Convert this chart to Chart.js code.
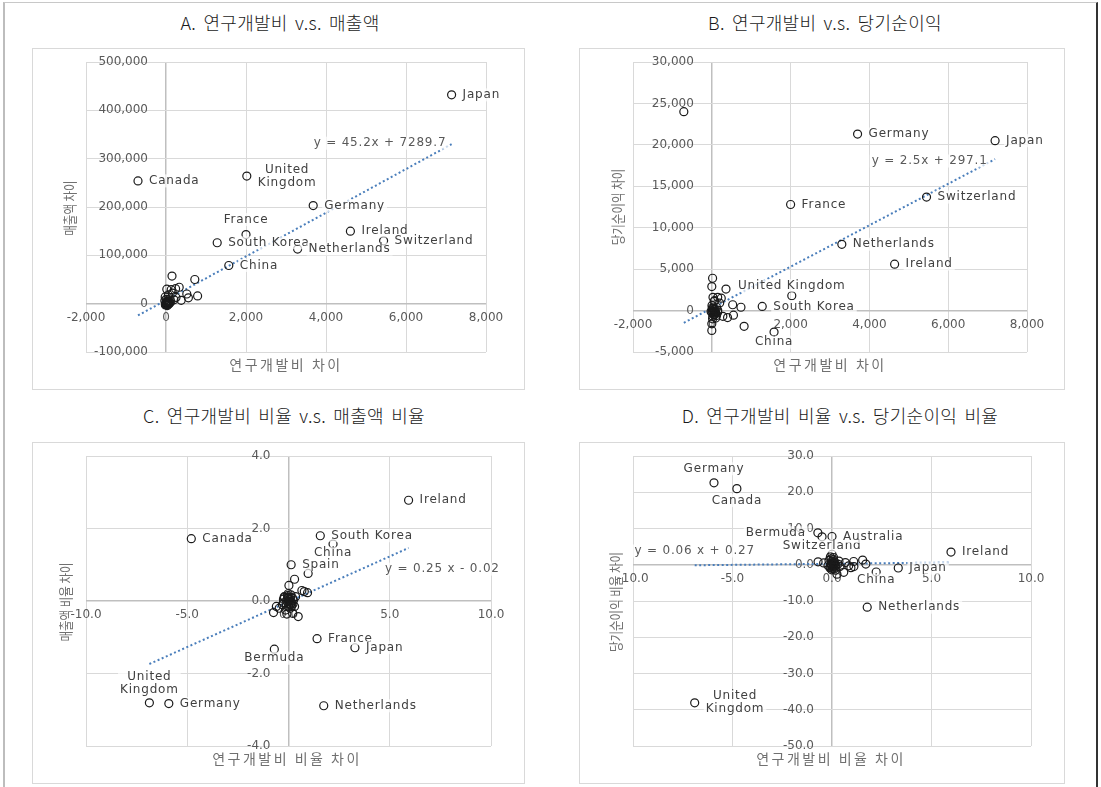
<!DOCTYPE html>
<html>
<head>
<meta charset="utf-8">
<script src="https://cdn.jsdelivr.net/npm/chart.js@4.4.1/dist/chart.umd.min.js"></script>
<style>
  body { margin: 0; background: #fff; width: 1101px; height: 787px; position: relative; overflow: hidden;
         font-family: "Noto Sans CJK KR", "Noto Sans", sans-serif; }
  .frame { position: absolute; left: 3px; top: 2px; width: 1091px; height: 800px;
           border-top: 1px solid #c8c8c8; border-left: 2px solid #bdbdbd; border-right: 2px solid #333; }
  .title { position: absolute; font-size: 18px; font-weight: 300; letter-spacing: 0.3px; color: #1a1a1a;
           transform: translate(-50%, -50%); white-space: nowrap; word-spacing: 3px; }
  .panel { position: absolute; outline: 1px solid #d9d9d9; }
  .xt { position: absolute; font-size: 14px; letter-spacing: 2.5px; color: #707070; transform: translate(-50%, -50%); white-space: nowrap; }
  .yt { position: absolute; font-size: 14px; color: #707070; transform: translate(-50%, -50%) rotate(-90deg) scaleX(0.82); white-space: nowrap; }
</style>
</head>
<body>
<div class="frame"></div>

<div class="title" style="left:280px;top:22px">A. 연구개발비 v.s. 매출액</div>
<div class="title" style="left:825px;top:22px">B. 연구개발비 v.s. 당기순이익</div>
<div class="title" style="left:284px;top:415px">C. 연구개발비 비율 v.s. 매출액 비율</div>
<div class="title" style="left:840px;top:415px">D. 연구개발비 비율 v.s. 당기순이익 비율</div>

<div class="panel" style="left:33px;top:49px;width:491px;height:340px"><canvas id="chartA" width="491" height="340"></canvas></div>
<div class="panel" style="left:580px;top:49px;width:484px;height:340px"><canvas id="chartB" width="484" height="340"></canvas></div>
<div class="panel" style="left:33px;top:443px;width:491px;height:340px"><canvas id="chartC" width="491" height="340"></canvas></div>
<div class="panel" style="left:580px;top:443px;width:484px;height:340px"><canvas id="chartD" width="484" height="340"></canvas></div>

<div class="xt" style="left:286px;top:364px">연구개발비 차이</div>
<div class="yt" style="left:69px;top:208px">매출액 차이</div>
<div class="xt" style="left:830px;top:364px">연구개발비 차이</div>
<div class="yt" style="left:617px;top:207px">당기순이익 차이</div>
<div class="xt" style="left:287px;top:758px">연구개발비 비율 차이</div>
<div class="yt" style="left:65px;top:602px">매출액 비율 차이</div>
<div class="xt" style="left:831px;top:758px">연구개발비 비율 차이</div>
<div class="yt" style="left:615px;top:602px">당기순이익 비율 차이</div>

<script>
// A: R&D spending difference vs. sales difference
const aNames = ['Japan', 'Canada', 'United Kingdom', 'Germany', 'France', 'South Korea', 'Netherlands', 'Ireland', 'Switzerland', 'China'];
const aX = [7140, -700, 2020, 3680, 2000, 1280, 3290, 4610, 5440, 1570,
  150, 720, 20, 130, 240, 330, 520, 790, 380, 560, -20, 60, 100, 200, 40, 10, 80, -10, 20, 50, 0, 30, 120, -30, 15, 70, 5, 160, 90, 250,
  10, 25, 40, -15, 60, 35, 5, 45, -5, 20];
const aY = [432000, 254000, 264000, 203000, 143000, 126000, 113000, 150000, 130000, 79000,
  57000, 50000, 30000, 29000, 31000, 34000, 20000, 16000, 7000, 12000, 14000, 18000, 10000, 8000, 5000, 2000, 3000, -1000, -3000, 500,
  0, 1500, 4000, 6000, -2000, -500, 9000, 22000, 1000, 13000,
  1000, -1500, 2500, -2500, 500, -4000, 4000, 6000, -500, 3500];
const aFit = { m: 45.2, b: 7289.7, sp: '' };
const aXTicks = [-2000, 0, 2000, 4000, 6000, 8000];
const aYTicks = [-100000, 0, 100000, 200000, 300000, 400000, 500000];

// B: R&D spending difference vs. net income difference
const bNames = ['Japan', 'Germany', 'France', 'Switzerland', 'Netherlands', 'Ireland', 'United Kingdom', 'South Korea', 'China'];
const bX = [7190, 3700, 2000, 5450, 3300, 4640, 2030, 1280, 1580, -710,
  20, 0, 360, 30, 150, 240, 60, 530, 740, 280, 400, 550, 820, 0, 0, 100, 30, 60, 120, 10, 50, 80, 150, 20, 200, 5, 40, 100, 0, 70,
  30, 60, 90, 10, 120, 45, 75, -20, 150, 25];
const bY = [20500, 21300, 12800, 13700, 8000, 5600, 1800, 500, -2600, 24000,
  3900, 2900, 2600, 1600, 1600, 1500, 1100, 700, 400, -700, -850, -550, -1900, -1600, -2400, -300, 200, -100, 400, 0,
  -500, 100, -200, -1000, 900, 600, 300, -900, -200, 1200,
  -300, -500, -200, 300, -600, 100, -400, -100, 50, -700];
const bFit = { m: 2.5, b: 297.1, sp: '' };
const bXTicks = [-2000, 0, 2000, 4000, 6000, 8000];
const bYTicks = [-5000, 0, 5000, 10000, 15000, 20000, 25000, 30000];

// C: R&D share difference vs. sales share difference
const cNames = ['Ireland', 'Canada', 'South Korea', 'China', 'Spain', 'France', 'Japan', 'Bermuda', 'United Kingdom', 'Germany', 'Netherlands'];
const cX = [5.93, -4.80, 1.57, 2.20, 0.13, 1.41, 3.28, -0.70, -6.87, -5.91, 1.74,
  0.97, 0.30, 0.02, 0.66, 0.78, 0.94, -0.21, 0.12, -0.74, -0.46, -0.08, 0.20, 0.48, -0.30, 0.05, -0.10, 0.15, 0.0, -0.05, 0.10,
  -0.15, 0.25, 0.02, -0.02, 0.08, -0.25, 0.30, -0.60, 0.0, 0.35,
  -0.20, 0.10, -0.10, 0.20, 0.05, -0.05, 0.15, -0.25, 0.0, 0.22];
const cY = [2.78, 1.72, 1.80, 1.57, 1.00, -1.04, -1.29, -1.33, -2.81, -2.83, -2.89,
  0.76, 0.60, 0.43, 0.29, 0.26, 0.23, 0.12, 0.17, -0.32, -0.20, -0.36, -0.34, -0.43, -0.10, 0.05, 0.0, -0.05, -0.15, 0.08, 0.10,
  -0.25, 0.02, -0.08, 0.20, -0.20, 0.05, -0.15, -0.15, 0.0, 0.12,
  0.10, -0.10, -0.12, 0.08, -0.02, 0.15, -0.15, -0.05, 0.10, -0.08];
const cFit = { m: 0.25, b: -0.02, sp: ' ' };
const cXTicks = [-10, -5, 0, 5, 10];
const cYTicks = [-4, -2, 0, 2, 4];

// D: R&D share difference vs. net income share difference
const dNames = ['Germany', 'Canada', 'Bermuda', 'Switzerland', 'Australia', 'Ireland', 'Japan', 'China', 'Netherlands', 'United Kingdom'];
const dX = [-5.93, -4.78, -0.71, -0.50, 0.00, 5.98, 3.33, 2.22, 1.77, -6.90,
  0.0, -0.08, 0.08, -0.70, -0.42, 0.67, 1.09, 1.54, 1.70, 0.84, 1.10, 0.95, 0.59, 0.17, 0.25, -0.15, 0.05, 0.15, -0.10, 0.30,
  0.02, -0.05, 0.10, 0.20, -0.20, 0.40, 0.0, 0.12, -0.03, 0.35,
  0.05, -0.05, 0.10, 0.0, 0.15, -0.10, 0.20, 0.08, -0.02, 0.12];
const dY = [22.6, 21.0, 8.8, 7.7, 7.8, 3.5, -0.9, -2.0, -11.7, -38.1,
  2.9, 2.2, 2.0, 0.8, 0.5, 0.6, 0.9, 1.3, 0.2, -0.3, -0.5, -0.8, -2.1, -1.5, -2.6, 1.2, 0.5, -0.3, -0.6, 0.2,
  -1.0, 1.6, 0.9, -0.9, -0.2, -0.5, 0.0, 0.3, -0.3, 1.0,
  -0.5, 0.3, -1.2, 1.0, 0.6, -0.9, -0.2, 1.4, -1.4, 0.1];
const dFit = { m: 0.06, b: 0.27, sp: ' ' };
const dXTicks = [-10, -5, 0, 5, 10];
const dYTicks = [-50, -40, -30, -20, -10, 0, 10, 20, 30];

const LABEL_FONT = '12px "DejaVu Sans"';
const TICK_COLOR = '#595959';
const Y_LABEL_GAP = 18; // px between the vertical zero line and the y tick labels

function fitText(f) {
  const sign = f.b < 0 ? '-' : '+';
  return 'y = ' + f.m + f.sp + 'x ' + sign + ' ' + Math.abs(f.b);
}

// draws country names next to their markers and the trendline equation
const pointLabels = {
  id: 'pointLabels',
  afterDatasetsDraw(chart, args, opts) {
    const ctx = chart.ctx;
    const meta = chart.getDatasetMeta(0);
    const names = chart.data.datasets[0].names;
    ctx.save();
    ctx.font = LABEL_FONT;
    ctx.letterSpacing = '0.8px';
    ctx.textBaseline = 'middle';
    ctx.textAlign = 'center';
    const lh = 13;
    const box = (lines, cx, cy, color) => {
      const w = Math.max(...lines.map(l => ctx.measureText(l).width));
      const h = lines.length * lh;
      ctx.fillStyle = 'rgba(255,255,255,0.7)';
      ctx.fillRect(cx - w / 2 - 2, cy - h / 2, w + 4, h);
      ctx.fillStyle = color;
      lines.forEach((l, k) => ctx.fillText(l, cx, cy - h / 2 + lh / 2 + k * lh));
    };
    meta.data.forEach((pt, i) => {
      const name = names[i];
      if (!name) return;
      const lines = opts.wrap.includes(name) ? name.split(' ') : [name];
      const w = Math.max(...lines.map(l => ctx.measureText(l).width));
      const p = opts.place[name] || 'r';
      const dist = parseFloat(p.slice(1)) || 11;
      let cx = pt.x, cy = pt.y;
      if (p[0] === 'r') cx = pt.x + dist + w / 2;
      else if (p[0] === 'l') cx = pt.x - dist - w / 2;
      else if (p[0] === 'a') cy = pt.y - dist;
      else if (p[0] === 'b') cy = pt.y + dist;
      box(lines, cx, cy, '#404040');
    });
    const sx = chart.scales.x, sy = chart.scales.y;
    box([opts.eq], sx.getPixelForValue(opts.eqAt[0]), sy.getPixelForValue(opts.eqAt[1]), '#595959');
    ctx.restore();
  }
};

function makeChart(id, names, xs, ys, fit, xTicks, yTicks, pad, fmt, place, wrap, eqAt) {
  const canvas = document.getElementById(id);
  const pts = xs.map((x, i) => ({ x: x, y: ys[i] }));
  const xMin = Math.min(...xs), xMax = Math.max(...xs);
  const trend = [xMin, xMax].map(x => ({ x: x, y: fit.m * x + fit.b }));

  // the y axis labels sit a fixed gap left of x = 0, so anchor the axis there
  const xSpan = xTicks[xTicks.length - 1] - xTicks[0];
  const plotW = canvas.width - pad.left - pad.right;
  const yAxisAt = -Y_LABEL_GAP * xSpan / plotW;

  const zeroColor = c => (c.tick && c.tick.value === 0 ? '#bfbfbf' : '#d9d9d9');
  const zeroWidth = c => (c.tick && c.tick.value === 0 ? 1.5 : 1);
  const axis = (ticks, pos, padding) => ({
    type: 'linear',
    position: pos,
    min: ticks[0],
    max: ticks[ticks.length - 1],
    ticks: { stepSize: ticks[1] - ticks[0], color: TICK_COLOR, font: { family: 'DejaVu Sans', size: 12 }, padding: padding, callback: fmt },
    grid: { color: zeroColor, lineWidth: zeroWidth, drawTicks: false },
    border: { display: false }
  });
  return new Chart(canvas, {
    type: 'scatter',
    data: {
      datasets: [{
        data: pts,
        names: names,
        pointRadius: 4,
        pointBorderWidth: 1.2,
        pointBorderColor: '#1a1a1a',
        pointBackgroundColor: 'rgba(0,0,0,0)'
      }, {
        data: trend,
        showLine: true,
        borderColor: '#4a7ebb',
        borderWidth: 2,
        borderDash: [2, 2.5],
        pointRadius: 0
      }]
    },
    options: {
      responsive: false,
      animation: false,
      layout: { padding: pad },
      plugins: {
        legend: { display: false },
        tooltip: { enabled: false },
        pointLabels: { place: place, wrap: wrap, eq: fitText(fit), eqAt: eqAt }
      },
      scales: {
        x: axis(xTicks, { y: 0 }, 7),
        y: axis(yTicks, { x: yAxisAt }, 0)
      }
    },
    plugins: [pointLabels]
  });
}

const thousands = v => v.toLocaleString('en-US');
const oneDecimal = v => v.toFixed(1);

makeChart('chartA', aNames, aX, aY, aFit, aXTicks, aYTicks,
  { left: 53, top: 13, right: 38, bottom: 37 }, thousands,
  { 'France': 'a15' }, ['United Kingdom'], [5350, 332000]);

makeChart('chartB', bNames, bX, bY, bFit, bXTicks, bYTicks,
  { left: 53, top: 13, right: 37, bottom: 37 }, thousands,
  { 'United Kingdom': 'a10', 'China': 'b10' }, [], [5530, 18050]);

makeChart('chartC', cNames, cX, cY, cFit, cXTicks, cYTicks,
  { left: 53, top: 13, right: 33, bottom: 37 }, oneDecimal,
  { 'China': 'b9', 'Bermuda': 'b9', 'United Kingdom': 'a19' }, ['United Kingdom'], [7.6, 0.88]);

makeChart('chartD', dNames, dX, dY, dFit, dXTicks, dYTicks,
  { left: 53, top: 13, right: 33, bottom: 37 }, oneDecimal,
  { 'Germany': 'a14', 'Canada': 'b12', 'Bermuda': 'l12', 'Switzerland': 'b9', 'China': 'b8' }, ['United Kingdom'], [-6.9, 3.8]);
</script>
</body>
</html>
